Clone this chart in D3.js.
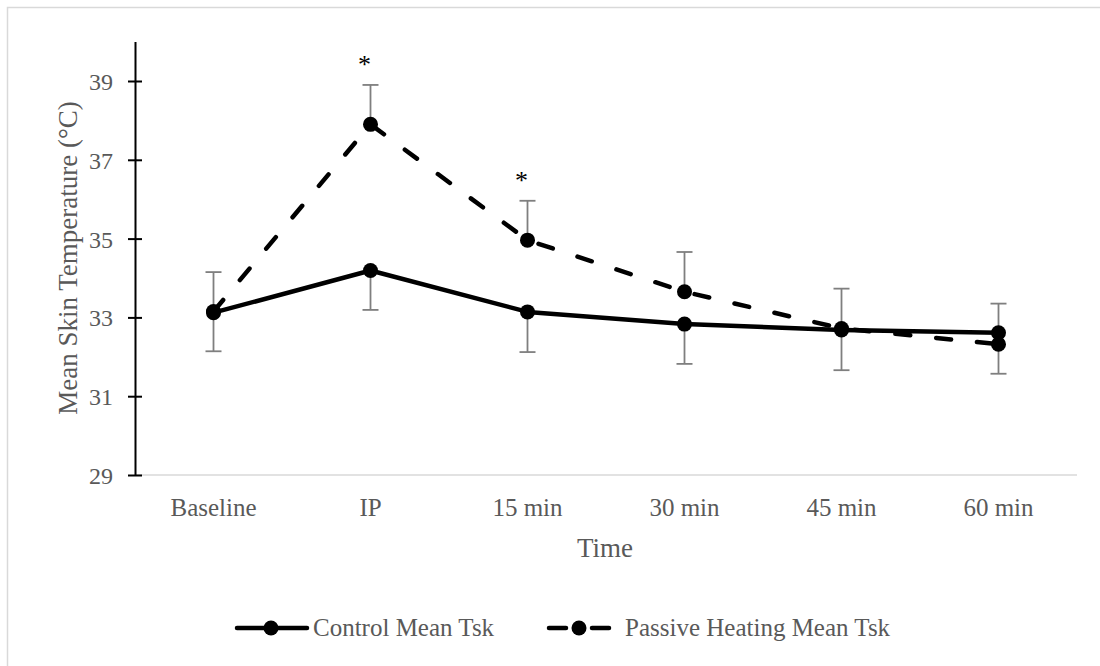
<!DOCTYPE html>
<meta charset="utf-8" />
<style>
  body { margin: 0; background: #fff; }
  text { font-family: "Liberation Serif", "DejaVu Serif", serif; fill: #595959; }
</style>
<svg width="1100" height="666"></svg>
<script src="https://d3js.org/d3.v7.min.js"></script>
<script>
  var categories = ["Baseline", "IP", "15 min", "30 min", "45 min", "60 min"];
  var controlMean = [33.12, 34.19, 33.14, 32.83, 32.68, 32.61];
  var controlErr = [0.98, 1.0, 1.02, 1.01, 1.02, 1.04];
  var heatingMean = [33.15, 37.9, 34.96, 33.65, 32.72, 32.32];
  var heatingErr = [1.0, 1.0, 1.0, 1.01, 1.01, 1.03];
  var yTicks = [29, 31, 33, 35, 37, 39];
  var starred = ["IP", "15 min"];

  var svg = d3.select("svg");

  // chart frame
  svg.append("rect")
    .attr("x", 7.5).attr("y", 7.5)
    .attr("width", 1100).attr("height", 700)
    .attr("fill", "none").attr("stroke", "#d9d9d9").attr("stroke-width", 1.5);

  var x = d3.scaleBand().domain(categories).range([135, 1077]);
  var y = d3.scaleLinear().domain([29, 40]).range([475, 41.6]);
  var cx = function (c) { return x(c) + x.bandwidth() / 2; };

  // x axis baseline
  svg.append("line")
    .attr("x1", 135).attr("x2", 1077)
    .attr("y1", y(29)).attr("y2", y(29))
    .attr("stroke", "#d9d9d9").attr("stroke-width", 1.5);

  var xAxis = svg.append("g")
    .attr("transform", "translate(0," + y(29) + ")")
    .call(d3.axisBottom(x).tickSize(0));
  xAxis.select(".domain").remove();
  xAxis.selectAll(".tick text")
    .attr("y", 41).attr("dy", null)
    .attr("font-size", 25).attr("font-family", null);

  var yAxis = svg.append("g")
    .attr("transform", "translate(135,0)")
    .call(d3.axisLeft(y).tickValues(yTicks).tickSizeOuter(0));
  yAxis.select(".domain").attr("stroke", "#000").attr("stroke-width", 2);
  yAxis.selectAll(".tick line").attr("stroke", "#000").attr("stroke-width", 2)
    .attr("x1", -7).attr("x2", 7);
  yAxis.selectAll(".tick text")
    .attr("x", -22).attr("dy", "0.35em")
    .attr("font-size", 24).attr("font-family", null);

  // axis titles
  svg.append("text")
    .attr("x", 605).attr("y", 557)
    .attr("text-anchor", "middle").attr("font-size", 27)
    .text("Time");
  svg.append("text")
    .attr("transform", "translate(77,258) rotate(-90)")
    .attr("text-anchor", "middle").attr("font-size", 27)
    .text("Mean Skin Temperature (°C)");

  // error bars: control minus, heating plus
  function errBars(means, errs, sign) {
    var g = svg.append("g").attr("stroke", "#7f7f7f").attr("stroke-width", 1.8);
    categories.forEach(function (c, i) {
      var end = means[i] + sign * errs[i];
      g.append("line")
        .attr("x1", cx(c)).attr("x2", cx(c))
        .attr("y1", y(means[i])).attr("y2", y(end));
      g.append("line")
        .attr("x1", cx(c) - 8).attr("x2", cx(c) + 8)
        .attr("y1", y(end)).attr("y2", y(end));
    });
  }
  errBars(controlMean, controlErr, -1);
  errBars(heatingMean, heatingErr, 1);

  var line = d3.line()
    .x(function (d, i) { return cx(categories[i]); })
    .y(function (d) { return y(d); });

  function series(means, dashed) {
    svg.append("path")
      .datum(means)
      .attr("d", line)
      .attr("fill", "none").attr("stroke", "#000")
      .attr("stroke-width", 4.5)
      .attr("stroke-linecap", "round")
      .attr("stroke-linejoin", "round")
      .attr("stroke-dasharray", dashed ? "15,26" : null);
    svg.append("g").selectAll("circle")
      .data(means).enter().append("circle")
      .attr("cx", function (d, i) { return cx(categories[i]); })
      .attr("cy", function (d) { return y(d); })
      .attr("r", 7.5).attr("fill", "#000");
  }
  series(controlMean, false);
  series(heatingMean, true);

  // significance markers
  starred.forEach(function (c) {
    var i = categories.indexOf(c);
    svg.append("text")
      .attr("x", cx(c) - 6)
      .attr("y", y(heatingMean[i] + heatingErr[i]) - 12)
      .attr("text-anchor", "middle").attr("font-size", 26)
      .style("fill", "#000")
      .text("*");
  });

  // legend
  var legend = [
    { label: "Control Mean Tsk", dashed: false, x: 237, tx: 313 },
    { label: "Passive Heating Mean Tsk", dashed: true, x: 547, tx: 625 }
  ];
  legend.forEach(function (d) {
    var ly = 628;
    if (d.dashed) {
      svg.append("line").attr("x1", d.x + 2).attr("x2", d.x + 19).attr("y1", ly).attr("y2", ly)
        .attr("stroke", "#000").attr("stroke-width", 4.5).attr("stroke-linecap", "round");
      svg.append("line").attr("x1", d.x + 45).attr("x2", d.x + 62).attr("y1", ly).attr("y2", ly)
        .attr("stroke", "#000").attr("stroke-width", 4.5).attr("stroke-linecap", "round");
      svg.append("circle").attr("cx", d.x + 32).attr("cy", ly).attr("r", 7.5).attr("fill", "#000");
    } else {
      svg.append("line").attr("x1", d.x).attr("x2", d.x + 70).attr("y1", ly).attr("y2", ly)
        .attr("stroke", "#000").attr("stroke-width", 4.5).attr("stroke-linecap", "round");
      svg.append("circle").attr("cx", d.x + 34).attr("cy", ly).attr("r", 7.5).attr("fill", "#000");
    }
    svg.append("text").attr("x", d.tx).attr("y", ly + 8)
      .attr("font-size", 25).text(d.label);
  });
</script>
